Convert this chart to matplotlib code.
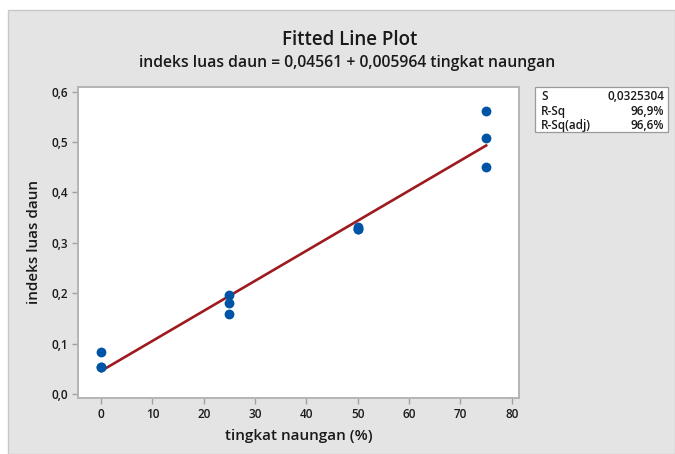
import matplotlib
matplotlib.use("Agg")
import matplotlib.pyplot as plt
import numpy as np
from matplotlib.patches import Rectangle

plt.rcParams['font.family'] = ['Open Sans', 'DejaVu Sans']

# Observed data
shade = [0, 0, 0, 25, 25, 25, 50, 50, 50, 75, 75, 75]
lai = [0.083, 0.053, 0.053, 0.197, 0.180, 0.159,
       0.331, 0.327, 0.327, 0.561, 0.508, 0.451]

# Regression coefficients and summary statistics
intercept = 0.04561
slope = 0.005964
stat_names = ["S", "R-Sq", "R-Sq(adj)"]
stat_values = ["0,0325304", "96,9%", "96,6%"]

xticks = [0, 10, 20, 30, 40, 50, 60, 70, 80]
yticks = [0.0, 0.1, 0.2, 0.3, 0.4, 0.5, 0.6]

W, H = 675, 454
fig = plt.figure(figsize=(W / 100, H / 100), dpi=100, facecolor='white')

# grey panel behind everything
panel = Rectangle((8 / W, 0), 1 - 8 / W, 1 - 10 / H, transform=fig.transFigure,
                  facecolor='#e4e4e4', edgecolor='#c8c8c8', linewidth=1.0, zorder=-5)
fig.patches.append(panel)

ax = fig.add_axes([78 / W, 1 - 398 / H, (519 - 78) / W, (398 - 87) / H])
ax.set_zorder(2)
ax.set_facecolor('white')

ax.scatter(shade, lai, s=50, color='#0054a6', zorder=3, linewidths=0)
xf = np.linspace(min(shade), max(shade), 50)
ax.plot(xf, intercept + slope * xf, color='#9e1a1e', lw=1.9, zorder=2)

ax.set_xlim(-4.5, 81.4)
ax.set_ylim(-0.008, 0.609)
ax.set_xticks(xticks)
ax.set_yticks(yticks)
ax.set_yticklabels([f"{v:.1f}".replace('.', ',') for v in yticks])
ax.set_xticklabels([str(v) for v in xticks])

for sp in ax.spines.values():
    sp.set_color('#b4b4b4')
    sp.set_linewidth(1.4)
ax.tick_params(direction='out', length=4, width=1, color='#a0a0a0',
               labelsize=8.5, labelcolor='#1a1a1a', pad=3)
for lab in ax.get_xticklabels() + ax.get_yticklabels():
    lab.set_fontweight('semibold')

ax.set_xlabel("tingkat naungan (%)", fontsize=11, fontweight='semibold',
              color='#1a1a1a', labelpad=6)
ax.set_ylabel("indeks luas daun", fontsize=11, fontweight='semibold',
              color='#1a1a1a', labelpad=8)

fig.text(350 / W, 1 - 40 / H, "Fitted Line Plot", ha='center', va='center',
         fontsize=13.5, fontweight='semibold', color='#1a1a1a')
fig.text(347 / W, 1 - 63 / H,
         "indeks luas daun = 0,04561 + 0,005964 tingkat naungan",
         ha='center', va='center', fontsize=11.3, fontweight='semibold',
         color='#1a1a1a')

# summary statistics box
bx0, bx1, by0, by1 = 535, 668, 87, 132
box = Rectangle((bx0 / W, 1 - by1 / H), (bx1 - bx0) / W, (by1 - by0) / H,
                transform=fig.transFigure, facecolor='white',
                edgecolor='#9a9a9a', linewidth=0.9, zorder=1)
fig.patches.append(box)
for i, (n, v) in enumerate(zip(stat_names, stat_values)):
    yy = 1 - (97 + i * 14.5) / H
    fig.text(541 / W, yy, n, ha='left', va='center', fontsize=8.5,
             fontweight='semibold', color='#1a1a1a')
    fig.text(664 / W, yy, v, ha='right', va='center', fontsize=8.5,
             fontweight='semibold', color='#1a1a1a')

fig.savefig("out.png", dpi=100, facecolor=fig.get_facecolor())
